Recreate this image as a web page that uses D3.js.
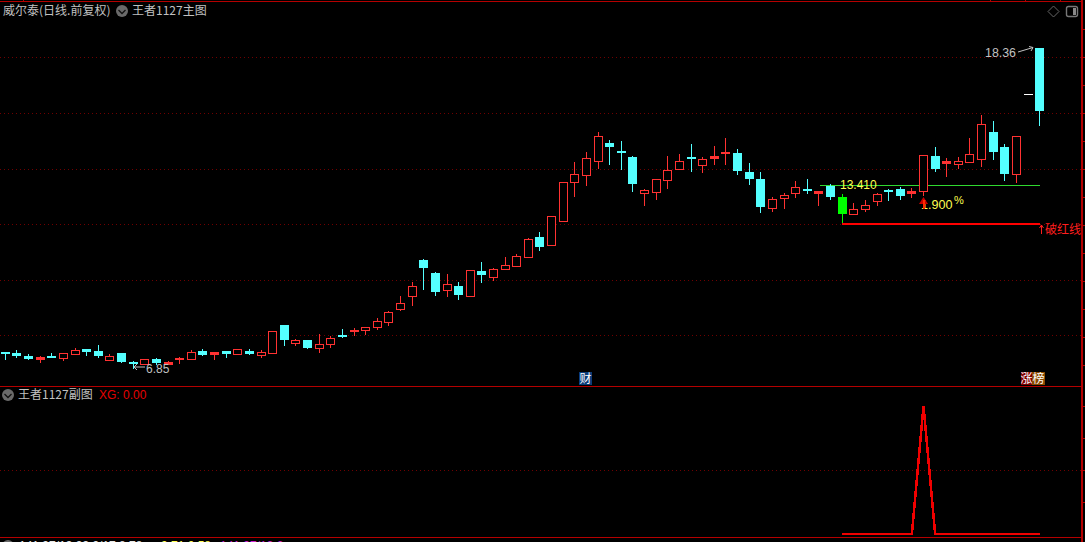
<!DOCTYPE html>
<html><head><meta charset="utf-8">
<style>html,body{margin:0;padding:0;background:#000;overflow:hidden}svg{display:block}text{font-family:"Noto Sans CJK SC","Liberation Sans",sans-serif}</style>
<script src="https://cdn.jsdelivr.net/npm/d3@7"></script></head><body><svg id="c" width="1085" height="542"></svg>
<script>
const highs=[7.42,7.49,7.35,7.27,7.38,7.37,7.56,7.53,7.67,7.35,
7.38,7.08,7.17,7.20,7.09,7.24,7.49,7.53,7.42,7.45,
7.53,7.54,7.49,8.17,8.39,7.89,7.85,8.07,7.99,8.25,
8.28,8.32,8.64,8.88,9.43,9.94,10.77,10.30,10.23,9.94,
10.37,10.66,10.44,10.84,10.95,11.52,11.74,12.31,13.54,14.26,
14.62,15.34,15.05,15.01,14.47,13.27,13.64,14.47,14.55,14.91,
14.44,14.83,15.12,14.73,14.22,13.90,13.00,13.14,13.57,13.65,
13.21,13.47,13.11,12.78,12.89,13.14,13.29,13.36,13.32,14.51,
14.80,14.40,14.44,15.12,15.95,15.73,14.91,15.18,16.70,18.38];
const bodyTops=[7.40,7.38,7.27,7.24,7.27,7.37,7.49,7.53,7.45,7.27,
7.38,7.06,7.17,7.17,7.07,7.20,7.41,7.45,7.42,7.45,
7.53,7.45,7.41,8.16,8.39,7.84,7.85,7.70,7.91,8.03,
8.21,8.31,8.53,8.85,9.17,9.78,10.73,10.26,9.86,9.79,
10.36,10.33,10.39,10.54,10.86,11.48,11.56,12.30,13.53,13.81,
14.39,15.18,14.94,14.65,14.44,13.24,13.64,13.96,14.28,14.44,
14.36,14.47,14.62,14.58,13.90,13.65,12.92,13.06,13.35,13.29,
13.20,13.41,13.00,12.56,12.70,13.10,13.25,13.29,13.21,14.50,
14.47,14.29,14.28,14.53,15.62,15.34,14.80,15.18,16.70,18.38];
const bodyBottoms=[7.36,7.27,7.17,7.18,7.24,7.20,7.36,7.42,7.27,7.14,
7.06,7.04,6.97,7.02,7.00,7.18,7.18,7.32,7.36,7.35,
7.36,7.35,7.32,7.39,7.85,7.75,7.56,7.57,7.72,7.99,
8.17,8.22,8.33,8.51,8.98,9.45,10.44,9.58,9.66,9.47,
9.45,10.19,10.13,10.42,10.52,10.85,11.20,11.28,12.14,13.55,
13.80,14.30,14.80,14.62,13.47,13.15,13.19,13.62,14.02,14.37,
14.16,14.40,14.58,13.93,13.65,12.64,12.61,12.97,13.15,13.25,
13.14,13.00,12.39,12.40,12.58,12.87,13.20,13.03,13.14,13.22,
14.01,14.22,14.20,14.27,14.38,14.62,13.83,13.84,16.70,16.10];
const lows=[7.15,7.24,7.17,7.06,7.22,7.13,7.36,7.31,7.24,7.14,
7.06,6.85,6.97,6.99,6.99,7.03,7.18,7.31,7.17,7.25,
7.33,7.35,7.24,7.39,7.68,7.68,7.56,7.42,7.61,7.96,
8.03,8.07,8.25,8.39,8.93,9.11,9.69,9.47,9.43,9.33,
9.45,9.94,10.01,10.42,10.52,10.85,11.09,11.27,12.14,13.03,
13.43,14.04,14.19,14.01,13.21,12.71,12.93,13.32,14.02,13.93,
13.90,14.19,14.19,13.83,13.47,12.46,12.49,12.60,13.00,13.14,
12.71,12.93,12.03,12.39,12.49,12.71,12.89,12.93,13.00,13.07,
13.93,13.75,14.04,14.27,14.11,14.37,13.61,13.54,16.70,15.59];
const kinds=("d d d u d u u d d u d d u d u u u d u d u d u u d u d u u d "+
"u u u u u u d d u d u d u u u u d u u u u u d d d u u u u d "+
"u u u d d d u u u d u d g u u u d d u u d u u u u d d u w d").trim().split(" ");
const gridPrices=[18.02,16.0,14.0,12.02,10.0,8.02];
const xgValues=[0,0,0,0,0,0,0,1,0,0,0,0,0,0,0,0,0,0];
const xgStart=72;
const subGrid=[0.5];
const supportPrice=13.41, breakPrice=12.03;
const highLabel="18.36", lowLabel="6.85", lineLabel="13.410", pctLabel="1.900";

const RED="#ff3232",CYAN="#54ffff",BORDER="#b40000",DOT="#700000",GREY="#c0c0c0",YEL="#ffff50";
const svg=d3.select("#c");
const x=d3.scaleLinear().domain([0,89]).range([5.37,1039.73]);
const y=d3.scaleLinear().domain([8,18]).range([335.83,58.06]);
const ySub=d3.scaleLinear().domain([0,1]).range([534,406]);
const col=i=>Math.floor(x(i));
const py=v=>Math.round(y(v));
const color=k=>k==="u"?RED:k==="d"?CYAN:k==="g"?"#00ff00":"#ffffff";

svg.append("rect").attr("width",1085).attr("height",542).attr("fill","#000");
const g=svg.append("g").attr("shape-rendering","crispEdges");
g.selectAll(".grid").data(gridPrices).join("line").attr("x1",0).attr("x2",1081)
 .attr("y1",d=>Math.floor(y(d))+.5).attr("y2",d=>Math.floor(y(d))+.5)
 .attr("stroke",DOT).attr("stroke-dasharray","1,3");
g.selectAll(".sgrid").data(subGrid).join("line").attr("x1",0).attr("x2",1081)
 .attr("y1",d=>Math.floor(ySub(d))+.5).attr("y2",d=>Math.floor(ySub(d))+.5)
 .attr("stroke",DOT).attr("stroke-dasharray","1,3");

[[0,1.5,1081,1.5],[0,386.5,1081,386.5],[0,537.5,1081,537.5]].forEach(l=>
 g.append("line").attr("x1",l[0]).attr("y1",l[1]).attr("x2",l[2]).attr("y2",l[3]).attr("stroke",BORDER));
g.append("rect").attr("x",1081).attr("y",0).attr("width",2).attr("height",542).attr("fill",BORDER);
[23,990,1025,1060].forEach(t=>g.append("rect").attr("x",t).attr("y",0).attr("width",1).attr("height",2).attr("fill",BORDER));
[29,57,85,113,141,169,197,225,253,281,309,337,365,406,438,470,502].forEach(t=>
 g.append("rect").attr("x",1083).attr("y",t).attr("width",2).attr("height",1).attr("fill",BORDER));

g.append("line").attr("x1",820).attr("x2",x(89)).attr("y1",Math.floor(y(supportPrice))+.5).attr("y2",Math.floor(y(supportPrice))+.5).attr("stroke","#2fd92f");

const idx=d3.range(highs.length);
const cg=g.selectAll(".candle").data(idx).join("g");
cg.append("line").attr("x1",i=>col(i)+.5).attr("x2",i=>col(i)+.5)
 .attr("y1",i=>py(highs[i])).attr("y2",i=>py(lows[i])+1)
 .attr("stroke",i=>color(kinds[i]));
cg.each(function(i){
  const s=d3.select(this),k=kinds[i],t=py(bodyTops[i]),b=py(bodyBottoms[i]);
  if(k==="u"){
    s.append("rect").attr("x",col(i)-4+.5).attr("y",t+.5).attr("width",8).attr("height",Math.max(b-t,1))
     .attr("fill",b-t<=2?RED:"#000").attr("stroke",RED).attr("stroke-width",1);
  } else {
    s.append("rect").attr("x",col(i)-4).attr("y",t).attr("width",9).attr("height",Math.max(b-t,k==="w"?1:2))
     .attr("fill",color(k));
  }
});

g.append("rect").attr("x",x(xgStart)).attr("width",x(89)-x(xgStart)).attr("y",Math.floor(y(breakPrice))).attr("height",2).attr("fill","#ff0000");

const line=d3.line().x((d,i)=>x(xgStart+i)).y(d=>ySub(d));
svg.append("path").attr("d",line(xgValues)).attr("fill","none").attr("stroke","#f00000").attr("stroke-width",2.5).attr("stroke-linejoin","bevel").attr("shape-rendering","crispEdges");

const T=(s,tx,ty,c,fs,font)=>svg.append("text").attr("x",tx).attr("y",ty).attr("fill",c).attr("font-size",fs||12).style("font-family",font||null).text(s);
const LAT='"Liberation Sans",sans-serif';
T("威尔泰(日线.前复权)",3,15,GREY,12);
T("王者1127主图",132,15,GREY,12);
T("王者1127副图",18,399,GREY,12);
T("XG: 0.00",99,399,"#e60000",12,LAT);
[[122,11],[8,395]].forEach(p=>{
 svg.append("circle").attr("cx",p[0]).attr("cy",p[1]).attr("r",6).attr("fill","#6a6a6a");
 svg.append("path").attr("d",`M${p[0]-3.5} ${p[1]-1}L${p[0]} ${p[1]+2.5}L${p[0]+3.5} ${p[1]-1}`).attr("fill","none").attr("stroke","#111").attr("stroke-width",1.3);
});
svg.append("path").attr("d","M1053.5 6L1059 11.5L1053.5 17L1048 11.5Z").attr("fill","none").attr("stroke","#666");
svg.append("rect").attr("x",1066.5).attr("y",6.5).attr("width",11).attr("height",10).attr("rx",2).attr("fill","none").attr("stroke","#777").attr("stroke-width",1.4);
svg.append("rect").attr("x",1073).attr("y",8).attr("width",3).attr("height",7).attr("fill","#888");

T(highLabel,985,57,GREY,12.4,LAT);
svg.append("path").attr("d","M1018 52L1033 47.5M1029 46.5L1033 47.5L1031 51").attr("fill","none").attr("stroke",GREY);
T(lowLabel,146,373,GREY,12,LAT);
svg.append("path").attr("d","M145 367L134 367M137 364L134 367L137 370").attr("fill","none").attr("stroke",GREY);
T(lineLabel,840,189,YEL,12,LAT);
T(pctLabel,921,209,YEL,12.6,LAT);
T("%",954,204,YEL,11,LAT);
svg.append("path").attr("d",`M${col(79)+.5} 197L${col(79)+5} 204L${col(79)-4} 204Z`).attr("fill","#c80000");
svg.append("rect").attr("x",col(79)).attr("y",200).attr("width",2).attr("height",9).attr("fill","#ff2a00");
T("破红线",1045,234,"#ff1e1e",12);
svg.append("path").attr("d","M1041.5 234L1041.5 225M1039.5 228L1041.5 225L1043.5 228").attr("fill","none").attr("stroke","#ff1e1e");

[[579,13,"#0a3c78","财"],[1021,11,"#800000","涨"],[1032,13,"#8a4a00","榜"]].forEach(d=>{
 svg.append("rect").attr("x",d[0]).attr("y",372).attr("width",d[1]).attr("height",13).attr("fill",d[2]);
 svg.append("text").attr("x",d[0]+d[1]/2).attr("y",383).attr("text-anchor","middle").attr("fill","#fff").attr("font-size",12).text(d[3]);
});
T("141.97/13.93  9/17  8.78",19,550,"#e8e8e8",12,LAT);
T("9.71  0.58",161,550,YEL,12,LAT);
T("141.97/13.2",220,550,"#d020d0",12,LAT);
svg.append("circle").attr("cx",8).attr("cy",546).attr("r",6).attr("fill","#6a6a6a");
</script></body></html>
